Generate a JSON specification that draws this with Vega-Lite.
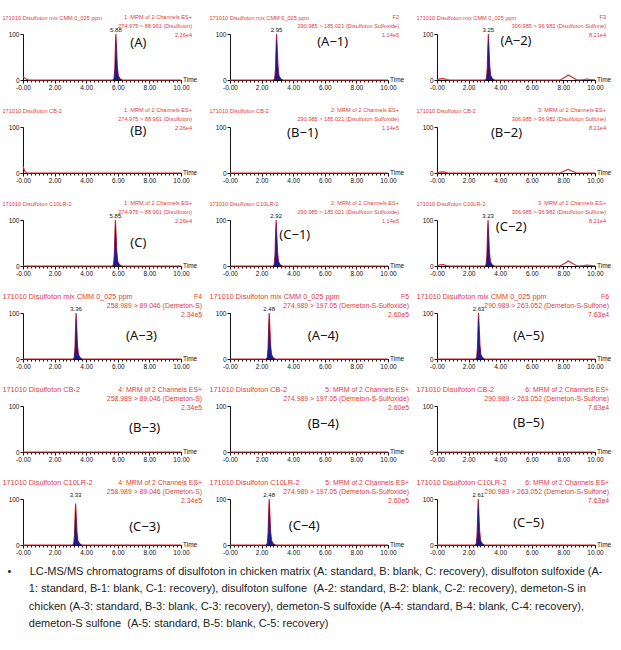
{
  "$schema": "https://vega.github.io/schema/vega-lite/v6.json",
  "padding": {"left": 2, "top": 14, "right": 5, "bottom": 5},
  "background": "white",
  "data": {"values": [
    {"k":"in","p":"A","ti":"171010 Disulfoton mix CMM 0_025 ppm","r":"1: MRM of 2 Channels ES+|274.975 > 88.961 (Disulfoton)|2.26e4","pk":5.88,"lab":"(A)","lt":7.3,"lv":81},
    {"k":"in","p":"A-1","ti":"171010 Disulfoton mix CMM 0_025 ppm","r":"F2|290.985 > 185.021 (Disulfoton Sulfoxide)|1.14e5","pk":2.95,"lab":"(A−1)","lt":6.5,"lv":83},
    {"k":"in","p":"A-2","ti":"171010 Disulfoton mix CMM 0_025 ppm","r":"F3|306.985 > 96.982 (Disulfoton Sulfone)|8.21e4","pk":3.25,"lab":"(A−2)","lt":5.0,"lv":85},
    {"k":"in","p":"B","ti":"171010 Disulfoton CB-2","r":"1: MRM of 2 Channels ES+|274.975 > 88.961 (Disulfoton)|2.26e4","lab":"(B)","lt":7.3,"lv":91},
    {"k":"in","p":"B-1","ti":"171010 Disulfoton CB-2","r":"2: MRM of 2 Channels ES+|290.985 > 185.021 (Disulfoton Sulfoxide)|1.14e5","lab":"(B−1)","lt":4.6,"lv":87},
    {"k":"in","p":"B-2","ti":"171010 Disulfoton CB-2","r":"3: MRM of 2 Channels ES+|306.985 > 96.982 (Disulfoton Sulfone)|8.21e4","lab":"(B−2)","lt":4.4,"lv":87},
    {"k":"in","p":"C","ti":"171010 Disulfoton C10LR-2","r":"1: MRM of 2 Channels ES+|274.975 > 88.961 (Disulfoton)|2.26e4","pk":5.85,"lab":"(C)","lt":7.3,"lv":51},
    {"k":"in","p":"C-1","ti":"171010 Disulfoton C10LR-2","r":"2: MRM of 2 Channels ES+|290.985 > 185.021 (Disulfoton Sulfoxide)|1.14e5","pk":2.92,"lab":"(C−1)","lt":4.1,"lv":68},
    {"k":"in","p":"C-2","ti":"171010 Disulfoton C10LR-2","r":"3: MRM of 2 Channels ES+|306.985 > 96.982 (Disulfoton Sulfone)|8.21e4","pk":3.23,"lab":"(C−2)","lt":4.7,"lv":85},
    {"k":"in","p":"A-3","ti":"171010 Disulfoton mix CMM 0_025 ppm","r":"F4|258.989 > 89.046 (Demeton-S)|2.34e5","pk":3.36,"lab":"(A−3)","lt":7.5,"lv":49},
    {"k":"in","p":"A-4","ti":"171010 Disulfoton mix CMM 0_025 ppm","r":"F5|274.989 > 197.05 (Demeton-S-Sulfoxide)|2.60e5","pk":2.48,"lab":"(A−4)","lt":5.9,"lv":49},
    {"k":"in","p":"A-5","ti":"171010 Disulfoton mix CMM 0_025 ppm","r":"F6|290.989 > 263.052 (Demeton-S-Sulfone)|7.63e4","pk":2.63,"lab":"(A−5)","lt":5.8,"lv":51},
    {"k":"in","p":"B-3","ti":"171010 Disulfoton CB-2","r":"4: MRM of 2 Channels ES+|258.989 > 89.046 (Demeton-S)|2.34e5","lab":"(B−3)","lt":7.7,"lv":52},
    {"k":"in","p":"B-4","ti":"171010 Disulfoton CB-2","r":"5: MRM of 2 Channels ES+|274.989 > 197.05 (Demeton-S-Sulfoxide)|2.60e5","lab":"(B−4)","lt":5.9,"lv":60},
    {"k":"in","p":"B-5","ti":"171010 Disulfoton CB-2","r":"6: MRM of 2 Channels ES+|290.989 > 263.052 (Demeton-S-Sulfone)|7.63e4","lab":"(B−5)","lt":5.8,"lv":64},
    {"k":"in","p":"C-3","ti":"171010 Disulfoton C10LR-2","r":"4: MRM of 2 Channels ES+|258.989 > 89.046 (Demeton-S)|2.34e5","pk":3.33,"lab":"(C−3)","lt":7.7,"lv":39},
    {"k":"in","p":"C-4","ti":"171010 Disulfoton C10LR-2","r":"5: MRM of 2 Channels ES+|274.989 > 197.05 (Demeton-S-Sulfoxide)|2.60e5","pk":2.48,"lab":"(C−4)","lt":4.7,"lv":41},
    {"k":"in","p":"C-5","ti":"171010 Disulfoton C10LR-2","r":"6: MRM of 2 Channels ES+|290.989 > 263.052 (Demeton-S-Sulfone)|7.63e4","pk":2.61,"lab":"(C−5)","lt":5.8,"lv":48},

    {"k":"tr","p":"A","t":0,"v":8,"s":"b"},{"k":"tr","p":"A","t":0.08,"v":5,"s":"b"},{"k":"tr","p":"A","t":0.2,"v":1.5,"s":"b"},{"k":"tr","p":"A","t":0.35,"v":0,"s":"b"},{"k":"tr","p":"A","t":10,"v":0,"s":"b"},
    {"k":"tr","p":"A","t":5.68,"v":0,"s":"pk"},{"k":"tr","p":"A","t":5.76,"v":3,"s":"pk"},{"k":"tr","p":"A","t":5.81,"v":25,"s":"pk"},{"k":"tr","p":"A","t":5.85,"v":75,"s":"pk"},{"k":"tr","p":"A","t":5.88,"v":100,"s":"pk"},{"k":"tr","p":"A","t":5.92,"v":70,"s":"pk"},{"k":"tr","p":"A","t":5.97,"v":30,"s":"pk"},{"k":"tr","p":"A","t":6.03,"v":10,"s":"pk"},{"k":"tr","p":"A","t":6.13,"v":3,"s":"pk"},{"k":"tr","p":"A","t":6.28,"v":0,"s":"pk"},

    {"k":"tr","p":"A-1","t":0,"v":0,"s":"b"},{"k":"tr","p":"A-1","t":10,"v":0,"s":"b"},
    {"k":"tr","p":"A-1","t":2.75,"v":0,"s":"pk"},{"k":"tr","p":"A-1","t":2.83,"v":3,"s":"pk"},{"k":"tr","p":"A-1","t":2.88,"v":25,"s":"pk"},{"k":"tr","p":"A-1","t":2.92,"v":75,"s":"pk"},{"k":"tr","p":"A-1","t":2.95,"v":100,"s":"pk"},{"k":"tr","p":"A-1","t":2.99,"v":70,"s":"pk"},{"k":"tr","p":"A-1","t":3.04,"v":30,"s":"pk"},{"k":"tr","p":"A-1","t":3.10,"v":10,"s":"pk"},{"k":"tr","p":"A-1","t":3.20,"v":3,"s":"pk"},{"k":"tr","p":"A-1","t":3.35,"v":0,"s":"pk"},

    {"k":"tr","p":"A-2","t":0,"v":0.5,"s":"b"},{"k":"tr","p":"A-2","t":0.2,"v":2.5,"s":"b"},{"k":"tr","p":"A-2","t":0.4,"v":3,"s":"b"},{"k":"tr","p":"A-2","t":0.6,"v":1,"s":"b"},{"k":"tr","p":"A-2","t":0.8,"v":0,"s":"b"},{"k":"tr","p":"A-2","t":7.8,"v":0,"s":"b"},{"k":"tr","p":"A-2","t":8.1,"v":6,"s":"b"},{"k":"tr","p":"A-2","t":8.3,"v":11,"s":"b"},{"k":"tr","p":"A-2","t":8.5,"v":7,"s":"b"},{"k":"tr","p":"A-2","t":8.8,"v":1,"s":"b"},{"k":"tr","p":"A-2","t":9.0,"v":0,"s":"b"},{"k":"tr","p":"A-2","t":9.3,"v":1,"s":"b"},{"k":"tr","p":"A-2","t":9.5,"v":2,"s":"b"},{"k":"tr","p":"A-2","t":9.7,"v":1,"s":"b"},{"k":"tr","p":"A-2","t":10,"v":0.5,"s":"b"},
    {"k":"tr","p":"A-2","t":3.05,"v":0,"s":"pk"},{"k":"tr","p":"A-2","t":3.13,"v":3,"s":"pk"},{"k":"tr","p":"A-2","t":3.18,"v":25,"s":"pk"},{"k":"tr","p":"A-2","t":3.22,"v":75,"s":"pk"},{"k":"tr","p":"A-2","t":3.25,"v":100,"s":"pk"},{"k":"tr","p":"A-2","t":3.29,"v":70,"s":"pk"},{"k":"tr","p":"A-2","t":3.34,"v":30,"s":"pk"},{"k":"tr","p":"A-2","t":3.40,"v":10,"s":"pk"},{"k":"tr","p":"A-2","t":3.50,"v":3,"s":"pk"},{"k":"tr","p":"A-2","t":3.65,"v":0,"s":"pk"},

    {"k":"tr","p":"B","t":0,"v":15,"s":"b"},{"k":"tr","p":"B","t":0.05,"v":10,"s":"b"},{"k":"tr","p":"B","t":0.12,"v":3,"s":"b"},{"k":"tr","p":"B","t":0.25,"v":0,"s":"b"},{"k":"tr","p":"B","t":10,"v":0,"s":"b"},

    {"k":"tr","p":"B-1","t":0,"v":0,"s":"b"},{"k":"tr","p":"B-1","t":10,"v":0,"s":"b"},

    {"k":"tr","p":"B-2","t":0,"v":0,"s":"b"},{"k":"tr","p":"B-2","t":0.2,"v":2,"s":"b"},{"k":"tr","p":"B-2","t":0.4,"v":2.5,"s":"b"},{"k":"tr","p":"B-2","t":0.7,"v":0,"s":"b"},{"k":"tr","p":"B-2","t":7.8,"v":0,"s":"b"},{"k":"tr","p":"B-2","t":8.1,"v":5,"s":"b"},{"k":"tr","p":"B-2","t":8.3,"v":8,"s":"b"},{"k":"tr","p":"B-2","t":8.5,"v":5,"s":"b"},{"k":"tr","p":"B-2","t":8.8,"v":0.5,"s":"b"},{"k":"tr","p":"B-2","t":10,"v":0,"s":"b"},

    {"k":"tr","p":"C","t":0,"v":0,"s":"b"},{"k":"tr","p":"C","t":10,"v":0,"s":"b"},
    {"k":"tr","p":"C","t":5.65,"v":0,"s":"pk"},{"k":"tr","p":"C","t":5.73,"v":3,"s":"pk"},{"k":"tr","p":"C","t":5.78,"v":25,"s":"pk"},{"k":"tr","p":"C","t":5.82,"v":75,"s":"pk"},{"k":"tr","p":"C","t":5.85,"v":100,"s":"pk"},{"k":"tr","p":"C","t":5.89,"v":70,"s":"pk"},{"k":"tr","p":"C","t":5.94,"v":30,"s":"pk"},{"k":"tr","p":"C","t":6.00,"v":10,"s":"pk"},{"k":"tr","p":"C","t":6.10,"v":3,"s":"pk"},{"k":"tr","p":"C","t":6.25,"v":0,"s":"pk"},

    {"k":"tr","p":"C-1","t":0,"v":0,"s":"b"},{"k":"tr","p":"C-1","t":10,"v":0,"s":"b"},
    {"k":"tr","p":"C-1","t":2.72,"v":0,"s":"pk"},{"k":"tr","p":"C-1","t":2.80,"v":3,"s":"pk"},{"k":"tr","p":"C-1","t":2.85,"v":25,"s":"pk"},{"k":"tr","p":"C-1","t":2.89,"v":75,"s":"pk"},{"k":"tr","p":"C-1","t":2.92,"v":100,"s":"pk"},{"k":"tr","p":"C-1","t":2.96,"v":70,"s":"pk"},{"k":"tr","p":"C-1","t":3.01,"v":30,"s":"pk"},{"k":"tr","p":"C-1","t":3.07,"v":10,"s":"pk"},{"k":"tr","p":"C-1","t":3.17,"v":3,"s":"pk"},{"k":"tr","p":"C-1","t":3.32,"v":0,"s":"pk"},

    {"k":"tr","p":"C-2","t":0,"v":0.5,"s":"b"},{"k":"tr","p":"C-2","t":0.2,"v":2.5,"s":"b"},{"k":"tr","p":"C-2","t":0.4,"v":3,"s":"b"},{"k":"tr","p":"C-2","t":0.6,"v":1,"s":"b"},{"k":"tr","p":"C-2","t":0.8,"v":0,"s":"b"},{"k":"tr","p":"C-2","t":7.8,"v":0,"s":"b"},{"k":"tr","p":"C-2","t":8.1,"v":6,"s":"b"},{"k":"tr","p":"C-2","t":8.3,"v":11,"s":"b"},{"k":"tr","p":"C-2","t":8.5,"v":7,"s":"b"},{"k":"tr","p":"C-2","t":8.8,"v":1,"s":"b"},{"k":"tr","p":"C-2","t":9.0,"v":0,"s":"b"},{"k":"tr","p":"C-2","t":9.3,"v":1,"s":"b"},{"k":"tr","p":"C-2","t":9.5,"v":2,"s":"b"},{"k":"tr","p":"C-2","t":9.7,"v":1,"s":"b"},{"k":"tr","p":"C-2","t":10,"v":0.5,"s":"b"},
    {"k":"tr","p":"C-2","t":3.03,"v":0,"s":"pk"},{"k":"tr","p":"C-2","t":3.11,"v":3,"s":"pk"},{"k":"tr","p":"C-2","t":3.16,"v":25,"s":"pk"},{"k":"tr","p":"C-2","t":3.20,"v":75,"s":"pk"},{"k":"tr","p":"C-2","t":3.23,"v":100,"s":"pk"},{"k":"tr","p":"C-2","t":3.27,"v":70,"s":"pk"},{"k":"tr","p":"C-2","t":3.32,"v":30,"s":"pk"},{"k":"tr","p":"C-2","t":3.38,"v":10,"s":"pk"},{"k":"tr","p":"C-2","t":3.48,"v":3,"s":"pk"},{"k":"tr","p":"C-2","t":3.63,"v":0,"s":"pk"},

    {"k":"tr","p":"A-3","t":0,"v":0,"s":"b"},{"k":"tr","p":"A-3","t":10,"v":0,"s":"b"},
    {"k":"tr","p":"A-3","t":3.16,"v":0,"s":"pk"},{"k":"tr","p":"A-3","t":3.24,"v":3,"s":"pk"},{"k":"tr","p":"A-3","t":3.29,"v":25,"s":"pk"},{"k":"tr","p":"A-3","t":3.33,"v":75,"s":"pk"},{"k":"tr","p":"A-3","t":3.36,"v":100,"s":"pk"},{"k":"tr","p":"A-3","t":3.40,"v":70,"s":"pk"},{"k":"tr","p":"A-3","t":3.45,"v":30,"s":"pk"},{"k":"tr","p":"A-3","t":3.51,"v":10,"s":"pk"},{"k":"tr","p":"A-3","t":3.61,"v":3,"s":"pk"},{"k":"tr","p":"A-3","t":3.76,"v":0,"s":"pk"},

    {"k":"tr","p":"A-4","t":0,"v":0,"s":"b"},{"k":"tr","p":"A-4","t":10,"v":0,"s":"b"},
    {"k":"tr","p":"A-4","t":2.28,"v":0,"s":"pk"},{"k":"tr","p":"A-4","t":2.36,"v":3,"s":"pk"},{"k":"tr","p":"A-4","t":2.41,"v":25,"s":"pk"},{"k":"tr","p":"A-4","t":2.45,"v":75,"s":"pk"},{"k":"tr","p":"A-4","t":2.48,"v":100,"s":"pk"},{"k":"tr","p":"A-4","t":2.52,"v":70,"s":"pk"},{"k":"tr","p":"A-4","t":2.57,"v":30,"s":"pk"},{"k":"tr","p":"A-4","t":2.63,"v":10,"s":"pk"},{"k":"tr","p":"A-4","t":2.73,"v":3,"s":"pk"},{"k":"tr","p":"A-4","t":2.88,"v":0,"s":"pk"},

    {"k":"tr","p":"A-5","t":0,"v":0,"s":"b"},{"k":"tr","p":"A-5","t":10,"v":0,"s":"b"},
    {"k":"tr","p":"A-5","t":2.43,"v":0,"s":"pk"},{"k":"tr","p":"A-5","t":2.51,"v":3,"s":"pk"},{"k":"tr","p":"A-5","t":2.56,"v":25,"s":"pk"},{"k":"tr","p":"A-5","t":2.60,"v":75,"s":"pk"},{"k":"tr","p":"A-5","t":2.63,"v":100,"s":"pk"},{"k":"tr","p":"A-5","t":2.67,"v":70,"s":"pk"},{"k":"tr","p":"A-5","t":2.72,"v":30,"s":"pk"},{"k":"tr","p":"A-5","t":2.78,"v":10,"s":"pk"},{"k":"tr","p":"A-5","t":2.88,"v":3,"s":"pk"},{"k":"tr","p":"A-5","t":3.03,"v":0,"s":"pk"},

    {"k":"tr","p":"B-3","t":0,"v":0,"s":"b"},{"k":"tr","p":"B-3","t":10,"v":0,"s":"b"},
    {"k":"tr","p":"B-4","t":0,"v":0,"s":"b"},{"k":"tr","p":"B-4","t":10,"v":0,"s":"b"},
    {"k":"tr","p":"B-5","t":0,"v":0,"s":"b"},{"k":"tr","p":"B-5","t":10,"v":0,"s":"b"},

    {"k":"tr","p":"C-3","t":0,"v":0,"s":"b"},{"k":"tr","p":"C-3","t":10,"v":0,"s":"b"},
    {"k":"tr","p":"C-3","t":3.13,"v":0,"s":"pk"},{"k":"tr","p":"C-3","t":3.21,"v":3,"s":"pk"},{"k":"tr","p":"C-3","t":3.26,"v":22,"s":"pk"},{"k":"tr","p":"C-3","t":3.30,"v":68,"s":"pk"},{"k":"tr","p":"C-3","t":3.33,"v":90,"s":"pk"},{"k":"tr","p":"C-3","t":3.37,"v":63,"s":"pk"},{"k":"tr","p":"C-3","t":3.42,"v":27,"s":"pk"},{"k":"tr","p":"C-3","t":3.48,"v":9,"s":"pk"},{"k":"tr","p":"C-3","t":3.58,"v":3,"s":"pk"},{"k":"tr","p":"C-3","t":3.73,"v":0,"s":"pk"},

    {"k":"tr","p":"C-4","t":0,"v":0,"s":"b"},{"k":"tr","p":"C-4","t":10,"v":0,"s":"b"},
    {"k":"tr","p":"C-4","t":2.28,"v":0,"s":"pk"},{"k":"tr","p":"C-4","t":2.36,"v":3,"s":"pk"},{"k":"tr","p":"C-4","t":2.41,"v":25,"s":"pk"},{"k":"tr","p":"C-4","t":2.45,"v":75,"s":"pk"},{"k":"tr","p":"C-4","t":2.48,"v":100,"s":"pk"},{"k":"tr","p":"C-4","t":2.52,"v":70,"s":"pk"},{"k":"tr","p":"C-4","t":2.57,"v":30,"s":"pk"},{"k":"tr","p":"C-4","t":2.63,"v":10,"s":"pk"},{"k":"tr","p":"C-4","t":2.73,"v":3,"s":"pk"},{"k":"tr","p":"C-4","t":2.88,"v":0,"s":"pk"},

    {"k":"tr","p":"C-5","t":0,"v":0,"s":"b"},{"k":"tr","p":"C-5","t":10,"v":0,"s":"b"},
    {"k":"tr","p":"C-5","t":2.41,"v":0,"s":"pk"},{"k":"tr","p":"C-5","t":2.49,"v":3,"s":"pk"},{"k":"tr","p":"C-5","t":2.54,"v":25,"s":"pk"},{"k":"tr","p":"C-5","t":2.58,"v":75,"s":"pk"},{"k":"tr","p":"C-5","t":2.61,"v":100,"s":"pk"},{"k":"tr","p":"C-5","t":2.65,"v":70,"s":"pk"},{"k":"tr","p":"C-5","t":2.70,"v":30,"s":"pk"},{"k":"tr","p":"C-5","t":2.76,"v":10,"s":"pk"},{"k":"tr","p":"C-5","t":2.86,"v":3,"s":"pk"},{"k":"tr","p":"C-5","t":3.01,"v":0,"s":"pk"}
  ]},
  "facet": {
    "field": "p", "type": "nominal",
    "sort": ["A","A-1","A-2","B","B-1","B-2","C","C-1","C-2","A-3","A-4","A-5","B-3","B-4","B-5","C-3","C-4","C-5"],
    "header": {"title": null, "labels": false, "labelExpr": "''", "labelFontSize": 0, "labelPadding": 0}
  },
  "columns": 3,
  "spacing": {"row": 47, "column": 49},
  "bounds": "flush",
  "resolve": {"axis": {"x": "independent", "y": "independent"}},
  "title": {
    "text": [
      "•\u00a0\u00a0\u00a0\u00a0\u00a0\u00a0LC-MS/MS chromatograms of disulfoton in chicken matrix (A: standard, B: blank, C: recovery), disulfoton sulfoxide (A-",
      "\u200b\u00a0\u00a0\u00a0\u00a0\u00a0\u00a0\u00a01: standard, B-1: blank, C-1: recovery), disulfoton sulfone\u00a0\u00a0(A-2: standard, B-2: blank, C-2: recovery), demeton-S in",
      "\u200b\u00a0\u00a0\u00a0\u00a0\u00a0\u00a0\u00a0chicken (A-3: standard, B-3: blank, C-3: recovery), demeton-S sulfoxide (A-4: standard, B-4: blank, C-4: recovery),",
      "\u200b\u00a0\u00a0\u00a0\u00a0\u00a0\u00a0\u00a0demeton-S sulfone\u00a0\u00a0(A-5: standard, B-5: blank, C-5: recovery)"
    ],
    "orient": "bottom", "anchor": "start", "frame": "bounds",
    "font": "Liberation Sans", "fontSize": 11, "fontWeight": "normal",
    "color": "#222222", "lineHeight": 17.5, "offset": 10, "dx": 5
  },
  "spec": {
    "width": 158,
    "height": 46,
    "resolve": {"axis": {"x": "independent"}},
    "layer": [
      {
        "transform": [{"filter": "datum.k == 'tr'"}],
        "mark": {"type": "line", "color": "#d9242b", "strokeWidth": 1.1},
        "encoding": {
          "x": {"field": "t", "type": "quantitative", "title": null,
            "scale": {"domain": [0, 10], "nice": false, "zero": false},
            "axis": {
              "orient": "bottom",
              "values": [0, 2, 4, 6, 8, 10],
              "labelExpr": "datum.value == 0 ? '-0.00' : format(datum.value, '.2f')",
              "labelFontSize": 6.5, "labelFont": "Liberation Sans", "labelColor": "#111111",
              "labelFlush": false, "labelOverlap": false, "labelPadding": 1,
              "tickSize": 3, "tickColor": "#111111", "domainColor": "#111111", "grid": false
            }
          },
          "y": {"field": "v", "type": "quantitative", "title": null,
            "scale": {"domain": [0, 100], "nice": false},
            "axis": {
              "values": [0, 50, 100],
              "labelExpr": "datum.value == 50 ? '%' : format(datum.value, 'd')",
              "labelFontSize": 6.5, "labelFont": "Liberation Sans", "labelColor": "#111111",
              "labelOverlap": false, "labelPadding": 1, "tickSize": 3, "tickColor": "#111111", "domainColor": "#111111", "grid": false
            }
          }
        }
      },
      {
        "transform": [{"filter": "datum.k == 'tr' && datum.s == 'pk'"}],
        "mark": {"type": "area", "color": "#1b1b8e", "opacity": 1},
        "encoding": {
          "x": {"field": "t", "type": "quantitative", "title": null,
            "axis": {
              "orient": "bottom",
              "values": [0,0.25,0.5,0.75,1,1.25,1.5,1.75,2,2.25,2.5,2.75,3,3.25,3.5,3.75,4,4.25,4.5,4.75,5,5.25,5.5,5.75,6,6.25,6.5,6.75,7,7.25,7.5,7.75,8,8.25,8.5,8.75,9,9.25,9.5,9.75,10],
              "labels": false, "domain": false, "grid": false,
              "tickSize": 2, "tickColor": "#111111"
            }
          },
          "y": {"field": "v", "type": "quantitative", "title": null}
        }
      },
      {
        "transform": [{"filter": "datum.k == 'in'"}],
        "mark": {"type": "text", "align": "left", "baseline": "middle", "color": "#e23b3b", "font": "Liberation Sans"},
        "encoding": {
          "x": {"datum": -1.3, "type": "quantitative", "axis": null},
          "y": {"datum": 135, "type": "quantitative"},
          "text": {"field": "ti"},
          "size": {"condition": {"test": "indexof(['A-3','A-4','A-5','B-3','B-4','B-5','C-3','C-4','C-5'], datum.p) >= 0", "value": 7.3}, "value": 5.6}
        }
      },
      {
        "transform": [{"filter": "datum.k == 'in'"}],
        "mark": {"type": "text", "align": "right", "baseline": "top", "color": "#e23b3b", "font": "Liberation Sans", "lineBreak": "|", "lineHeight": 9,
          "dx": {"expr": "indexof(['A-3','A-4','B-3','B-4','C-3','C-4'], datum.p) >= 0 ? 10 : (indexof(['A-5','B-5','C-5'], datum.p) >= 0 ? 3 : 0)"}},
        "encoding": {
          "x": {"datum": 10.7, "type": "quantitative", "axis": null},
          "y": {"datum": 142, "type": "quantitative"},
          "text": {"field": "r"},
          "size": {"condition": {"test": "indexof(['A-3','A-4','A-5','B-3','B-4','B-5','C-3','C-4','C-5'], datum.p) >= 0", "value": 6.9}, "value": 5.6}
        }
      },
      {
        "transform": [{"filter": "datum.k == 'in' && isValid(datum.pk)"}],
        "mark": {"type": "text", "align": "center", "baseline": "bottom", "dy": -1, "color": "#111111", "fontSize": 6, "font": "Liberation Sans"},
        "encoding": {
          "x": {"field": "pk", "type": "quantitative", "axis": null},
          "y": {"datum": 100, "type": "quantitative"},
          "text": {"field": "pk", "type": "quantitative", "format": ".2f"}
        }
      },
      {
        "transform": [{"filter": "datum.k == 'in'"}],
        "mark": {"type": "text", "align": "center", "baseline": "middle", "color": "#111111", "fontSize": 13, "font": "Noto Sans"},
        "encoding": {
          "x": {"field": "lt", "type": "quantitative", "axis": null},
          "y": {"field": "lv", "type": "quantitative"},
          "text": {"field": "lab"}
        }
      },
      {
        "transform": [{"filter": "datum.k == 'in'"}],
        "mark": {"type": "text", "align": "left", "baseline": "middle", "dx": 2, "color": "#111111", "fontSize": 6.5, "font": "Liberation Sans"},
        "encoding": {
          "x": {"datum": 10, "type": "quantitative", "axis": null},
          "y": {"datum": 0, "type": "quantitative"},
          "text": {"value": "Time"}
        }
      }
    ]
  },
  "config": {
    "view": {"stroke": null},
    "font": "Liberation Sans",
    "axis": {"labelOverlap": false},
    "header": {"labels": false, "title": null},
    "headerFacet": {"labels": false, "title": null}
  }
}
